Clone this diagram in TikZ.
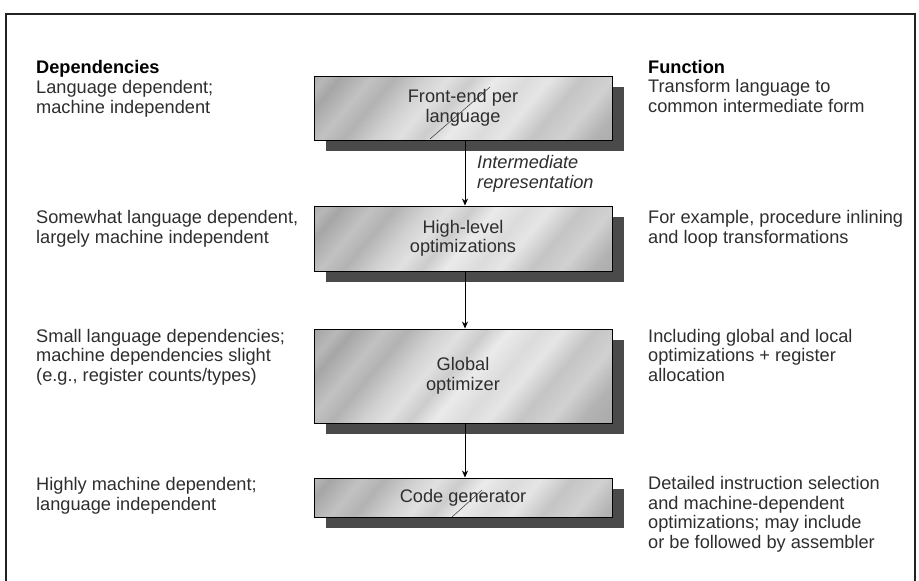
\documentclass[tikz,border=0pt]{standalone}
\usepackage{fontspec}
\setmainfont{Liberation Sans}
\usetikzlibrary{shadows,arrows.meta}
\definecolor{txt}{HTML}{2E2E2E}
\definecolor{shadowgray}{HTML}{4A4A4A}
\definecolor{frame}{HTML}{222222}
\definecolor{sA}{gray}{0.58}
\definecolor{sB}{gray}{0.62}
\definecolor{sC}{gray}{0.72}
\definecolor{sD}{gray}{0.65}
\definecolor{sE}{gray}{0.76}
\definecolor{sF}{gray}{0.70}
\definecolor{sG}{gray}{0.82}
\definecolor{sH}{gray}{0.88}
\definecolor{sI}{gray}{0.80}
\definecolor{sJ}{gray}{0.92}
\definecolor{sK}{gray}{0.86}
\definecolor{sL}{gray}{0.90}
\definecolor{sM}{gray}{0.77}
\definecolor{sN}{gray}{0.82}
\definecolor{sO}{gray}{0.70}
\definecolor{sP}{gray}{0.66}
\pgfdeclarehorizontalshading{streak}{100bp}{color(0bp)=(sA); color(25bp)=(sB); color(29bp)=(sC); color(31bp)=(sD); color(35bp)=(sE); color(38bp)=(sF); color(42bp)=(sG); color(45bp)=(sH); color(48bp)=(sI); color(51bp)=(sJ); color(55bp)=(sK); color(58bp)=(sL); color(62bp)=(sM); color(66bp)=(sN); color(70bp)=(sO); color(75bp)=(sP); color(100bp)=(sP)}
\tikzset{
  txtfont/.style={font=\fontsize{18.2}{19.5}\selectfont, text=txt},
  col/.style={txtfont, anchor=base west, align=left, inner sep=0pt},
  stagebox/.style={draw=black, line width=0.9pt, minimum width=298pt, inner sep=0pt,
    align=center, txtfont, fill=sD,
    drop shadow={shadow xshift=12pt, shadow yshift=-11pt, fill=shadowgray, opacity=1},
    path picture={\shade[shading=streak, shading angle=-40]
      ([shift={(-150pt,-150pt)}]path picture bounding box.center) rectangle
      ([shift={(150pt,150pt)}]path picture bounding box.center);}},
  arr/.style={draw=black, line width=0.9pt, -{Stealth[length=7pt,width=6pt]}},
  slash/.style={draw=black!80, line width=0.5pt}
}
\begin{document}
\begin{tikzpicture}[x=1pt,y=-1pt]
\useasboundingbox (0,0) rectangle (919,581);
\fill[white] (0,0) rectangle (919,581);
\draw[frame, line width=1.3pt] (6,581) -- (6,14) -- (915,14) -- (915,581);

% stages
\node[stagebox, minimum height=64pt] (fe) at (463,108) {Front-end per\\language};
\node[stagebox, minimum height=65pt] (hl) at (463,238.5) {High-level\\optimizations};
\node[stagebox, minimum height=94pt] (go) at (463,376) {Global\\optimizer};
\node[stagebox, minimum height=39pt] (cg) at (463,497.5) {Code generator};

\draw[slash] ([shift={(-33,31)}]fe.center) -- ([shift={(27,-21)}]fe.center);
\draw[slash] ([shift={(-11,19.5)}]cg.center) -- ([shift={(19,-7.5)}]cg.center);

% arrows
\draw[arr] ([xshift=2pt]fe.south) -- ([xshift=2pt]hl.north);
\draw[arr] ([xshift=2pt]hl.south) -- ([xshift=2pt]go.north);
\draw[arr] ([xshift=2pt]go.south) -- ([xshift=2pt]cg.north);
\node[col, font=\fontsize{18.2}{19.5}\selectfont\itshape] (ir) at (477,188) {Intermediate\\representation};

% left column (anchor = baseline of last line)
\node[col, font=\fontsize{18.2}{19.5}\selectfont\bfseries, text=black] (dh) at (36,73) {Dependencies};
\node[col] (d1) at (36,113) {Language dependent;\\machine independent};
\node[col] (d2) at (36,243) {Somewhat language dependent,\\largely machine independent};
\node[col] (d3) at (36,381) {Small language dependencies;\\machine dependencies slight\\(e.g., register counts/types)};
\node[col] (d4) at (36,510) {Highly machine dependent;\\language independent};

% right column
\node[col, font=\fontsize{18.2}{19.5}\selectfont\bfseries, text=black] (fh) at (648,73) {Function};
\node[col] (f1) at (648,112) {Transform language to\\common intermediate form};
\node[col] (f2) at (648,243) {For example, procedure inlining\\and loop transformations};
\node[col] (f3) at (648,381) {Including global and local\\optimizations + register\\allocation};
\node[col] (f4) at (648,548) {Detailed instruction selection\\and machine-dependent\\optimizations; may include\\or be followed by assembler};
\end{tikzpicture}
\end{document}
